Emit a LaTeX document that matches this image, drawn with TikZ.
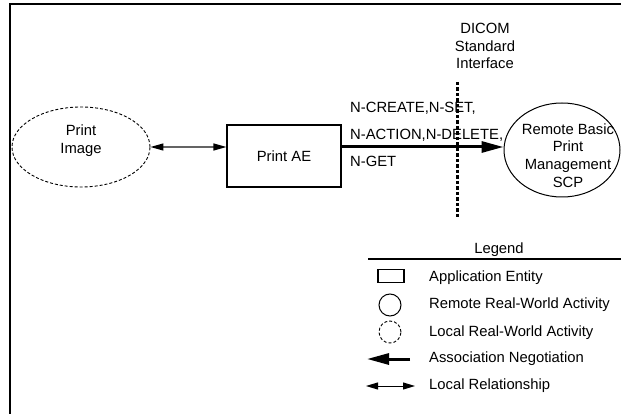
\documentclass[tikz,border=0pt]{standalone}
\usepackage{fontspec}
\setmainfont{Liberation Sans}
\usetikzlibrary{shapes.geometric,arrows.meta}
\begin{document}
\begin{tikzpicture}[x=1pt,y=-1pt,
  txt/.style={font=\fontsize{14.8}{17.8}\selectfont, inner sep=0pt, align=center},
  ltxt/.style={txt, anchor=west, align=left},
  assoc/.style={line width=3pt, -{Triangle[length=22pt,width=11pt]}},
  lrelg/.style={line width=1.3pt, draw={rgb,255:red,100;green,100;blue,100}, {Triangle[length=13pt,width=7pt,color=black]}-{Triangle[length=13pt,width=7pt,color=black]}},
  lrel/.style={line width=1pt, {Triangle[length=12pt,width=7pt]}-{Triangle[length=12pt,width=7pt]}},
  ent/.style={draw, line width=1.1pt, inner sep=0pt},
  remact/.style={ellipse, draw, line width=1pt, inner sep=0pt},
  locact/.style={ellipse, draw, line width=0.9pt, dash pattern=on 3pt off 2pt, inner sep=0pt}
]
\useasboundingbox (0,0) rectangle (621,414);
% frame
\coordinate (fbl) at (10,425);
\coordinate (ftl) at (10,4);
\coordinate (ftr) at (630,4);
\draw[line width=2pt] (fbl) -- (ftl) -- (ftr);

% main diagram
\node[locact, minimum width=138pt, minimum height=80pt] (pimg) at (81,147) {};
\node[txt] (pimgtxt) at (81,141) {Print\\Image};
\node[ent, minimum width=114pt, minimum height=62pt, txt] (ae) at (284,156) {Print AE};
\node[remact, minimum width=116pt, minimum height=94pt] (rem) at (562,150) {};
\node[txt] (remtxt) at (568,155.5) {Remote Basic\\Print\\Management\\SCP};

\draw[lrelg] (pimg.east) -- (pimg.east -| ae.west);
\draw[assoc] (pimg.east -| ae.east) -- (pimg.east -| rem.west);

\node[txt] (dicom) at (485,46) {DICOM\\Standard\\Interface};
\coordinate (dtop) at (457,82);
\coordinate (dbot) at (457,218);
\draw[line width=3pt, dash pattern=on 3.5pt off 2pt] (dtop) -- (dbot);

\node[ltxt] (l1) at (350,108) {N-CREATE,N-SET,};
\node[ltxt] (l2) at (350,135) {N-ACTION,N-DELETE,};
\node[ltxt] (l3) at (350,161) {N-GET};

% legend
\node[txt] (leg) at (499,250) {Legend};
\coordinate (legL) at (368,259);
\coordinate (legR) at (625,259);
\draw[line width=1.5pt] (legL) -- (legR);

\node[ent, minimum width=26pt, minimum height=13pt] (iae) at (391,276) {};
\node[remact, minimum width=22pt, minimum height=22pt] (irem) at (390,305) {};
\node[locact, minimum width=22pt, minimum height=22pt] (iloc) at (390,332) {};
\coordinate (a1) at (367,359);
\coordinate (a2) at (410,359);
\draw[assoc] (a2) -- (a1);
\coordinate (b1) at (366,386);
\coordinate (b2) at (415,386);
\draw[lrel] (b1) -- (b2);

\node[ltxt] (t1) at (429,278) {Application Entity};
\node[ltxt] (t2) at (429,305) {Remote Real-World Activity};
\node[ltxt] (t3) at (429,333) {Local Real-World Activity};
\node[ltxt] (t4) at (429,359) {Association Negotiation};
\node[ltxt] (t5) at (429,386) {Local Relationship};
\end{tikzpicture}
\end{document}
